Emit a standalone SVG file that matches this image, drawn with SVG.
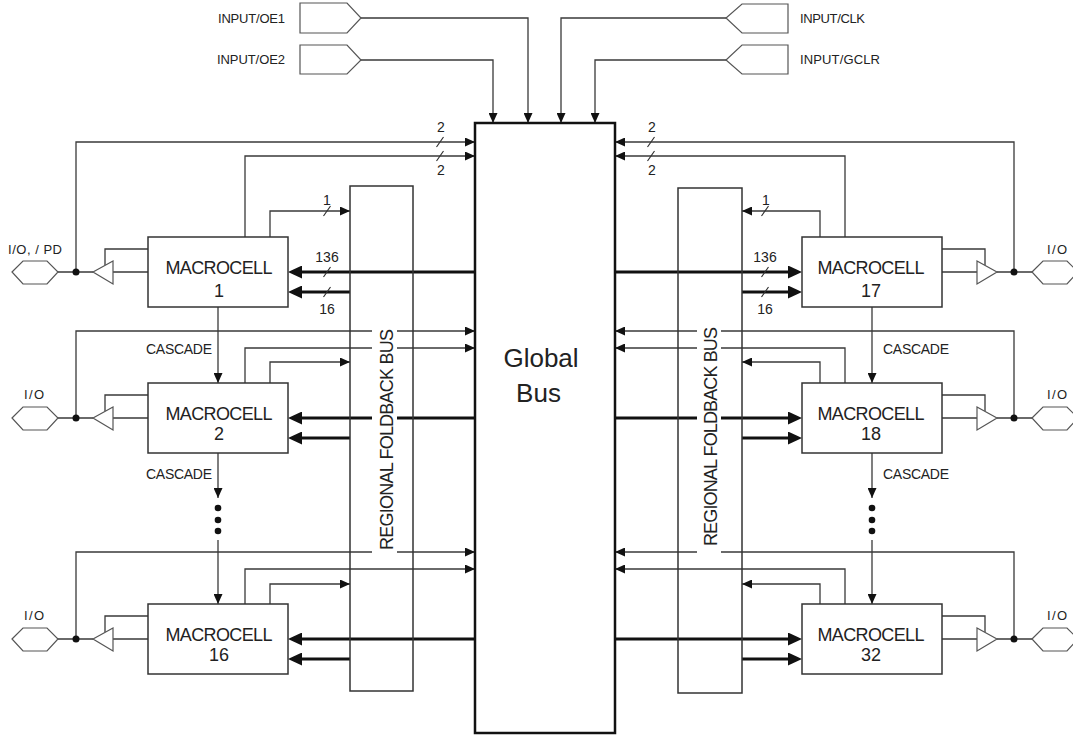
<svg xmlns="http://www.w3.org/2000/svg" width="1073" height="737" viewBox="0 0 1073 737">
<defs>
<style>
text{font-family:"Liberation Sans",Arial,sans-serif;fill:#222}
.ln{fill:none;stroke:#3a3a3a;stroke-width:1.3}
.tk{fill:none;stroke:#111;stroke-width:3}
.bx{fill:#fff;stroke:#333;stroke-width:1.5}
.pad{fill:#fff;stroke:#555;stroke-width:1.2}
.sl{stroke:#333;stroke-width:1.2}
.dot{fill:#111}
.mc{font-size:18px;text-anchor:middle}
.lb{font-size:14px;text-anchor:middle}
.in{font-size:13px}
.cs{font-size:14px}
.io{font-size:13px}
.rb{font-size:18px;text-anchor:middle}
</style>
<marker id="a" viewBox="0 0 10 9" refX="10" refY="4.5" markerWidth="10" markerHeight="9" markerUnits="userSpaceOnUse" orient="auto"><path d="M0,0L10,4.5L0,9z" fill="#111"/></marker>
<marker id="A" viewBox="0 0 14 13" refX="9" refY="6.5" markerWidth="14" markerHeight="13" markerUnits="userSpaceOnUse" orient="auto"><path d="M0,0L14,6.5L0,13z" fill="#111"/></marker>
</defs>
<rect width="1073" height="737" fill="#fff"/>

<g id="connectors">
<!-- inputs -->
<path class="ln" d="M361,18H528V123" marker-end="url(#a)"/>
<path class="ln" d="M361,60H493V123" marker-end="url(#a)"/>
<path class="ln" d="M726,18H561V123" marker-end="url(#a)"/>
<path class="ln" d="M726,60H595V123" marker-end="url(#a)"/>

<!-- left row 1 -->
<path class="ln" d="M76,272V142H475" marker-end="url(#a)"/>
<path class="ln" d="M245,237V156H475" marker-end="url(#a)"/>
<path class="ln" d="M270,237V211H350" marker-end="url(#a)"/>
<path class="tk" d="M475,272H293" marker-end="url(#A)"/>
<path class="tk" d="M350,292H293" marker-end="url(#A)"/>
<!-- left row 2 -->
<path class="ln" d="M76,418V331H475" marker-end="url(#a)"/>
<path class="ln" d="M245,383V348H475" marker-end="url(#a)"/>
<path class="ln" d="M270,383V362H350" marker-end="url(#a)"/>
<path class="tk" d="M475,418H293" marker-end="url(#A)"/>
<path class="tk" d="M350,438H293" marker-end="url(#A)"/>
<!-- left row 3 -->
<path class="ln" d="M76,639V552H475" marker-end="url(#a)"/>
<path class="ln" d="M245,604V569H475" marker-end="url(#a)"/>
<path class="ln" d="M270,604V584H350" marker-end="url(#a)"/>
<path class="tk" d="M475,639H293" marker-end="url(#A)"/>
<path class="tk" d="M350,659H293" marker-end="url(#A)"/>

<!-- right row 1 -->
<path class="ln" d="M1014,272V142H615" marker-end="url(#a)"/>
<path class="ln" d="M845,237V156H615" marker-end="url(#a)"/>
<path class="ln" d="M820,237V211H742" marker-end="url(#a)"/>
<path class="tk" d="M615,272H797" marker-end="url(#A)"/>
<path class="tk" d="M742,292H797" marker-end="url(#A)"/>
<!-- right row 2 -->
<path class="ln" d="M1014,418V331H615" marker-end="url(#a)"/>
<path class="ln" d="M845,383V348H615" marker-end="url(#a)"/>
<path class="ln" d="M820,383V362H742" marker-end="url(#a)"/>
<path class="tk" d="M615,418H797" marker-end="url(#A)"/>
<path class="tk" d="M742,438H797" marker-end="url(#A)"/>
<!-- right row 3 -->
<path class="ln" d="M1014,639V552H615" marker-end="url(#a)"/>
<path class="ln" d="M845,604V569H615" marker-end="url(#a)"/>
<path class="ln" d="M820,604V584H742" marker-end="url(#a)"/>
<path class="tk" d="M615,639H797" marker-end="url(#A)"/>
<path class="tk" d="M742,659H797" marker-end="url(#A)"/>

<!-- cascade left -->
<path class="ln" d="M218,307V383" marker-end="url(#a)"/>
<path class="ln" d="M218,453V498" marker-end="url(#a)"/>
<path class="ln" d="M218,540V604" marker-end="url(#a)"/>
<circle class="dot" cx="218" cy="508" r="3.3"/>
<circle class="dot" cx="218" cy="520" r="3.3"/>
<circle class="dot" cx="218" cy="531" r="3.3"/>
<!-- cascade right -->
<path class="ln" d="M872,307V383" marker-end="url(#a)"/>
<path class="ln" d="M872,453V498" marker-end="url(#a)"/>
<path class="ln" d="M872,540V604" marker-end="url(#a)"/>
<circle class="dot" cx="872" cy="508" r="3.3"/>
<circle class="dot" cx="872" cy="520" r="3.3"/>
<circle class="dot" cx="872" cy="531" r="3.3"/>

<!-- output stages left -->
<path class="ln" d="M58,272H93M113,272H148M148,249H105V265"/>
<path class="ln" d="M58,418H93M113,418H148M148,395H105V411"/>
<path class="ln" d="M58,639H93M113,639H148M148,616H105V632"/>
<circle class="dot" cx="76" cy="272" r="3.5"/>
<circle class="dot" cx="76" cy="418" r="3.5"/>
<circle class="dot" cx="76" cy="639" r="3.5"/>
<!-- output stages right -->
<path class="ln" d="M1032,272H997M977,272H942M942,249H985V265"/>
<path class="ln" d="M1032,418H997M977,418H942M942,395H985V411"/>
<path class="ln" d="M1032,639H997M977,639H942M942,616H985V632"/>
<circle class="dot" cx="1014" cy="272" r="3.5"/>
<circle class="dot" cx="1014" cy="418" r="3.5"/>
<circle class="dot" cx="1014" cy="639" r="3.5"/>

<!-- bus width slashes -->
<path class="sl" d="M436.5,147L443.5,137M436.5,161L443.5,151M323.5,216L330.5,206M323.5,277L330.5,267M323.5,297L330.5,287"/>
<path class="sl" d="M647.5,147L654.5,137M647.5,161L654.5,151M761.5,216L768.5,206M761.5,277L768.5,267M761.5,297L768.5,287"/>
<text class="lb" x="441" y="132">2</text>
<text class="lb" x="441" y="175">2</text>
<text class="lb" x="327" y="205">1</text>
<text class="lb" x="327" y="262">136</text>
<text class="lb" x="327" y="314">16</text>
<text class="lb" x="652" y="132">2</text>
<text class="lb" x="652" y="175">2</text>
<text class="lb" x="766" y="205">1</text>
<text class="lb" x="765" y="262">136</text>
<text class="lb" x="765" y="314">16</text>
<text class="cs" x="212" y="354" text-anchor="end" textLength="66">CASCADE</text>
<text class="cs" x="212" y="479" text-anchor="end" textLength="66">CASCADE</text>
<text class="cs" x="883" y="354" textLength="66">CASCADE</text>
<text class="cs" x="883" y="479" textLength="66">CASCADE</text>
</g>

<g id="global-bus">
<rect x="475" y="123" width="140" height="610" fill="none" stroke="#111" stroke-width="2.5"/>
<text x="541" y="367" font-size="26" text-anchor="middle">Global</text>
<text x="538.5" y="402" font-size="26" text-anchor="middle">Bus</text>
</g>

<g id="foldback-left">
<rect x="350" y="186" width="63" height="505" fill="none" stroke="#333" stroke-width="1.5"/>
<rect x="372" y="324" width="25" height="232" fill="#fff"/>
<text class="rb" transform="translate(393,439.5) rotate(-90)" x="0" y="0" textLength="221">REGIONAL FOLDBACK BUS</text>
</g>
<g id="foldback-right">
<rect x="678" y="188" width="64" height="505" fill="none" stroke="#333" stroke-width="1.5"/>
<rect x="697" y="322" width="24" height="232" fill="#fff"/>
<text class="rb" transform="translate(717,436.5) rotate(-90)" x="0" y="0" textLength="219">REGIONAL FOLDBACK BUS</text>
</g>

<g id="input-oe1"><path class="pad" d="M300,3H347L361,18L347,33H300Z"/><text class="in" x="285" y="23" text-anchor="end" textLength="67">INPUT/OE1</text></g>
<g id="input-oe2"><path class="pad" d="M300,45H347L361,60L347,74H300Z"/><text class="in" x="285" y="64" text-anchor="end" textLength="68">INPUT/OE2</text></g>
<g id="input-clk"><path class="pad" d="M788,4H742L726,18L742,33H788Z"/><text class="in" x="800" y="23" textLength="65">INPUT/CLK</text></g>
<g id="input-gclr"><path class="pad" d="M788,45H742L726,60L742,74H788Z"/><text class="in" x="800" y="64" textLength="80">INPUT/GCLR</text></g>

<g id="macrocell-1"><rect class="bx" x="148" y="237" width="140" height="70"/><text class="mc" x="219" y="274" textLength="107">MACROCELL</text><text class="mc" x="219" y="297">1</text></g>
<g id="macrocell-2"><rect class="bx" x="148" y="383" width="140" height="70"/><text class="mc" x="219" y="420" textLength="107">MACROCELL</text><text class="mc" x="219" y="440">2</text></g>
<g id="macrocell-16"><rect class="bx" x="148" y="604" width="140" height="70"/><text class="mc" x="219" y="641" textLength="107">MACROCELL</text><text class="mc" x="219" y="661">16</text></g>
<g id="macrocell-17"><rect class="bx" x="802" y="237" width="140" height="70"/><text class="mc" x="871" y="274" textLength="107">MACROCELL</text><text class="mc" x="871" y="297">17</text></g>
<g id="macrocell-18"><rect class="bx" x="802" y="383" width="140" height="70"/><text class="mc" x="871" y="420" textLength="107">MACROCELL</text><text class="mc" x="871" y="440">18</text></g>
<g id="macrocell-32"><rect class="bx" x="802" y="604" width="140" height="70"/><text class="mc" x="871" y="641" textLength="107">MACROCELL</text><text class="mc" x="871" y="661">32</text></g>

<g id="buffer-left-1"><path class="pad" d="M93,272L113,261V284Z"/></g>
<g id="buffer-left-2"><path class="pad" d="M93,418L113,407V430Z"/></g>
<g id="buffer-left-3"><path class="pad" d="M93,639L113,628V651Z"/></g>
<g id="buffer-right-1"><path class="pad" d="M997,272L977,261V284Z"/></g>
<g id="buffer-right-2"><path class="pad" d="M997,418L977,407V430Z"/></g>
<g id="buffer-right-3"><path class="pad" d="M997,639L977,628V651Z"/></g>

<g id="pad-left-1"><path class="pad" d="M12,272L23,261H47L58,272L47,284H23Z"/><text class="io" x="8" y="254" textLength="54">I/O, / PD</text></g>
<g id="pad-left-2"><path class="pad" d="M12,418L23,407H47L58,418L47,430H23Z"/><text class="io" x="24" y="399" textLength="20">I/O</text></g>
<g id="pad-left-3"><path class="pad" d="M12,639L23,628H47L58,639L47,651H23Z"/><text class="io" x="24" y="620" textLength="20">I/O</text></g>
<g id="pad-right-1"><path class="pad" d="M1032,272L1043,261H1067L1078,272L1067,284H1043Z"/><text class="io" x="1047" y="254" textLength="20">I/O</text></g>
<g id="pad-right-2"><path class="pad" d="M1032,418L1043,407H1067L1078,418L1067,430H1043Z"/><text class="io" x="1047" y="399" textLength="20">I/O</text></g>
<g id="pad-right-3"><path class="pad" d="M1032,639L1043,628H1067L1078,639L1067,651H1043Z"/><text class="io" x="1047" y="620" textLength="20">I/O</text></g>
</svg>
